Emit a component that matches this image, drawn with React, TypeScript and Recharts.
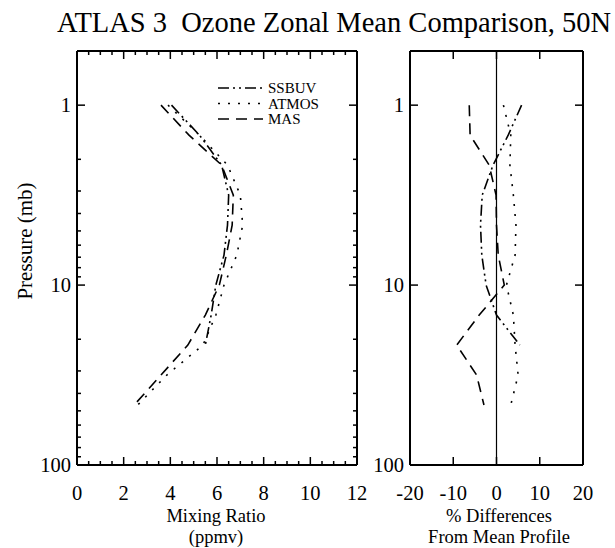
import React from "react";
import { ScatterChart, Scatter, XAxis, YAxis, ReferenceLine, Legend } from "recharts";

// UARS standard pressure levels (mb), 6 per decade
const PRESSURE = [1, 1.468, 2.154, 3.162, 4.642, 6.813, 10, 14.68, 21.54, 31.62, 46.42];

// zonal mean ozone mixing ratio (ppmv)
const SSBUV_PPMV = [4.05, 5.25, 6.2, 6.5, 6.45, 6.3, 5.95, 5.75, 5.5];
const ATMOS_PPMV = [3.9, 5.25, 6.45, 7.0, 7.1, 6.85, 6.3, 5.95, 5.4, 3.85, 2.6];
const MAS_PPMV = [3.6, 4.8, 6.2, 6.7, 6.65, 6.4, 6.1, 5.5, 4.75, 3.6, 2.45];

// % difference from the mean profile
const SSBUV_PCT = [5.8, 2.7, -0.8, -3.3, -3.7, -3.4, -2.4, 0, 5.4];
const ATMOS_PCT = [1.6, 3.3, 3.1, 3.9, 4.5, 4.3, 2.3, 3.9, 4.3, 5.0, 3.3];
const MAS_PCT = [-6.3, -6.1, -1.7, -0.1, 0, 0.4, 1.8, -4.0, -9.2, -4.6, -2.9];

const SERIES_NAMES = ["SSBUV", "ATMOS", "MAS"];

const LOG_MAJOR = [1, 10, 100];
const LOG_MINOR = [2, 3, 4, 5, 6, 7, 8, 9, 20, 30, 40, 50, 60, 70, 80, 90];
const MIX_MAJOR = [0, 2, 4, 6, 8, 10, 12];
const MIX_MINOR = [0.5, 1, 1.5, 2.5, 3, 3.5, 4.5, 5, 5.5, 6.5, 7, 7.5, 8.5, 9, 9.5, 10.5, 11, 11.5];
const DIFF_MAJOR = [-20, -10, 0, 10, 20];

const FONT = '"Liberation Serif", "Times New Roman", serif';
const DASH: Record<string, string> = {
  SSBUV: "11 4 2 4 2 4",
  ATMOS: "2 8",
  MAS: "11 7",
};
const LINE_W = 1.6;

type Pt = { v: number; p: number };
const toPoints = (vals: number[]): Pt[] => vals.map((v, i) => ({ v, p: PRESSURE[i] }));

type Side = "top" | "bottom" | "left" | "right";

// inward tick marks, labels only on the bottom / left sides
function makeTick(side: Side, majors: number[], labelled: boolean, majorLen = 8, minorLen = 4) {
  return (props: any) => {
    const { x, y, payload } = props;
    const value = payload.value as number;
    const isMajor = majors.includes(value);
    const l = isMajor ? majorLen : minorLen;
    let tick = null;
    if (l > 0) {
      if (side === "bottom") tick = <line x1={x} x2={x} y1={y} y2={y - l} stroke="#000" strokeWidth={1.5} />;
      if (side === "top") tick = <line x1={x} x2={x} y1={y} y2={y + l} stroke="#000" strokeWidth={1.5} />;
      if (side === "left") tick = <line x1={x} x2={x + l} y1={y} y2={y} stroke="#000" strokeWidth={1.5} />;
      if (side === "right") tick = <line x1={x} x2={x - l} y1={y} y2={y} stroke="#000" strokeWidth={1.5} />;
    }
    let label = null;
    if (labelled && isMajor) {
      if (side === "bottom")
        label = (
          <text x={x} y={y + 28} textAnchor="middle" dominantBaseline="central" fontFamily={FONT} fontSize={20.5} fill="#000">
            {String(value)}
          </text>
        );
      if (side === "left")
        label = (
          <text x={x - 6} y={y} textAnchor="end" dominantBaseline="central" fontFamily={FONT} fontSize={20.5} fill="#000">
            {String(value)}
          </text>
        );
    }
    return (
      <g>
        {tick}
        {label}
      </g>
    );
  };
}

const AXIS_LINE = { stroke: "#000", strokeWidth: 2 };
const noDot = () => <g />;

function LegendBox() {
  return (
    <svg width={130} height={50} style={{ display: "block" }}>
      {SERIES_NAMES.map((name, i) => (
        <g key={name}>
          <line x1={5} x2={50} y1={10 + i * 15.5} y2={10 + i * 15.5} stroke="#000" strokeWidth={LINE_W} strokeDasharray={DASH[name]} />
          <text x={55} y={10 + i * 15.5} dominantBaseline="central" fontFamily={FONT} fontSize={15} fill="#000">
            {name}
          </text>
        </g>
      ))}
    </svg>
  );
}

// the four framing axes of one panel; axis size 1 keeps them rendered
function frameAxes(xDomain: [number, number], xTicks: number[], xMajor: number[], xMinorLen: number, yTicks: number[]) {
  const common = {
    type: "number" as const,
    allowDataOverflow: true,
    interval: 0 as const,
    tickSize: 0,
    tickMargin: 0,
    tickLine: false,
    axisLine: AXIS_LINE,
  };
  return [
    <XAxis key="xb" {...common} dataKey="v" domain={xDomain} ticks={xTicks} height={1} tick={makeTick("bottom", xMajor, true, 8, xMinorLen)} />,
    <XAxis key="xt" {...common} xAxisId="top" orientation="top" dataKey="v" domain={xDomain} ticks={xTicks} height={1} tick={makeTick("top", xMajor, false, 8, xMinorLen)} />,
    <YAxis key="yl" {...common} dataKey="p" scale="log" domain={[0.5, 100]} reversed ticks={yTicks} width={1} tick={makeTick("left", LOG_MAJOR, true)} />,
    <YAxis key="yr" {...common} yAxisId="right" orientation="right" dataKey="p" scale="log" domain={[0.5, 100]} reversed ticks={yTicks} width={1} tick={makeTick("right", LOG_MAJOR, false)} />,
  ];
}

export default function App() {
  const mixSeries = [
    { name: "SSBUV", data: toPoints(SSBUV_PPMV) },
    { name: "ATMOS", data: toPoints(ATMOS_PPMV) },
    { name: "MAS", data: toPoints(MAS_PPMV) },
  ];
  const diffSeries = [
    { name: "SSBUV", data: toPoints(SSBUV_PCT) },
    { name: "ATMOS", data: toPoints(ATMOS_PCT) },
    { name: "MAS", data: toPoints(MAS_PCT) },
  ];
  const logTicks = [...LOG_MAJOR, ...LOG_MINOR].sort((a, b) => a - b);
  const mixTicks = [...MIX_MAJOR, ...MIX_MINOR].sort((a, b) => a - b);

  return (
    <div style={{ position: "absolute", left: 0, top: 0, width: 615, height: 548, background: "#fff" }}>
      <div style={{ position: "absolute", left: 0, top: 0 }}>
        <ScatterChart width={370} height={548} margin={{ top: 50, right: 12, bottom: 82, left: 76 }}>
          {frameAxes([0, 12], mixTicks, MIX_MAJOR, 4, logTicks)}
          {mixSeries.map((s) => (
            <Scatter
              key={s.name}
              name={s.name}
              data={s.data}
              shape={noDot}
              line={{ stroke: "#000", strokeWidth: LINE_W, strokeDasharray: DASH[s.name] }}
              isAnimationActive={false}
            />
          ))}
          <Legend
            layout="vertical"
            align="center"
            verticalAlign="middle"
            wrapperStyle={{ left: 213, top: 78, width: 130 }}
            content={() => <LegendBox />}
          />
        </ScatterChart>
      </div>

      <div style={{ position: "absolute", left: 370, top: 0 }}>
        <ScatterChart width={245} height={548} margin={{ top: 50, right: 31, bottom: 82, left: 39 }}>
          {frameAxes([-20, 20], DIFF_MAJOR, DIFF_MAJOR, 0, LOG_MAJOR)}
          <ReferenceLine x={0} stroke="#000" strokeWidth={1.2} />
          {diffSeries.map((s) => (
            <Scatter
              key={s.name}
              name={s.name}
              data={s.data}
              shape={noDot}
              line={{ stroke: "#000", strokeWidth: LINE_W, strokeDasharray: DASH[s.name] }}
              isAnimationActive={false}
            />
          ))}
        </ScatterChart>
      </div>

      <svg
        width={615}
        height={548}
        style={{ position: "absolute", left: 0, top: 0, pointerEvents: "none" }}
        fontFamily={FONT}
        fill="#000"
      >
        <text x={334} y={22} textAnchor="middle" dominantBaseline="central" fontSize={28.5} style={{ whiteSpace: "pre" }}>
          {"ATLAS 3  Ozone Zonal Mean Comparison, 50N"}
        </text>
        <text
          x={25}
          y={241}
          textAnchor="middle"
          dominantBaseline="central"
          fontSize={21}
          transform="rotate(-90 25 241)"
        >
          Pressure (mb)
        </text>
        <text x={216} y={516} textAnchor="middle" dominantBaseline="central" fontSize={18.5}>
          Mixing Ratio
        </text>
        <text x={216} y={537} textAnchor="middle" dominantBaseline="central" fontSize={18.5}>
          (ppmv)
        </text>
        <text x={499} y={516} textAnchor="middle" dominantBaseline="central" fontSize={18.5}>
          % Differences
        </text>
        <text x={499} y={537} textAnchor="middle" dominantBaseline="central" fontSize={18.5}>
          From Mean Profile
        </text>
      </svg>
    </div>
  );
}
